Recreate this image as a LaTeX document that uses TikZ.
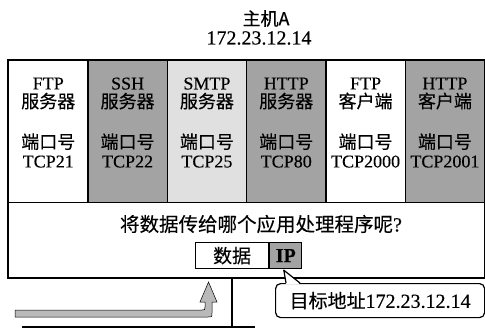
\documentclass[tikz,border=0pt]{standalone}
\usepackage{fontspec}
\setmainfont{Liberation Serif}[FakeBold=0.35]
\newfontfamily\cjk{Noto Sans CJK SC}[FakeBold=0.3]
\newcommand\zh[2][18]{{\cjk\fontsize{#1}{17}\selectfont #2}}
\definecolor{stipple}{gray}{0.64}
\definecolor{lightstipple}{gray}{0.88}
\tikzset{
  appcol/.style={draw, line width=1.2pt, minimum width=79.33pt, minimum height=142pt, anchor=north west, inner sep=0pt},
  coltext/.style={align=center, font=\fontsize{18}{17}\selectfont, inner sep=0pt},
  framebox/.style={draw, line width=1.2pt, inner sep=0pt},
}
\begin{document}
\begin{tikzpicture}[x=1pt,y=-1pt,font=\fontsize{20}{20}\selectfont]
\useasboundingbox (0,0) rectangle (485,329);
\node (hostname) at (266,18.5) {\zh{主机A}};
\node (hostip) at (259,38) {172.23.12.14};
\node[appcol] (ftps) at (8,60) {};
\node[appcol, fill=stipple] (sshs) at (87.33,60) {};
\node[appcol, fill=lightstipple] (smtps) at (166.67,60) {};
\node[appcol, fill=stipple] (https) at (246,60) {};
\node[appcol] (ftpc) at (325.33,60) {};
\node[appcol, fill=stipple] (httpc) at (404.67,60) {};
\node[coltext] (ftpsname) at ([yshift=-33.5pt]ftps.north) {FTP\\[1.5pt]\zh{服务器}};
\node[coltext] (sshsname) at ([yshift=-33.5pt]sshs.north) {SSH\\[1.5pt]\zh{服务器}};
\node[coltext] (smtpsname) at ([yshift=-33.5pt]smtps.north) {SMTP\\[1.5pt]\zh{服务器}};
\node[coltext] (httpsname) at ([yshift=-33.5pt]https.north) {HTTP\\[1.5pt]\zh{服务器}};
\node[coltext] (ftpcname) at ([yshift=-33.5pt]ftpc.north) {FTP\\[1.5pt]\zh{客户端}};
\node[coltext] (httpcname) at ([yshift=-33.5pt]httpc.north) {HTTP\\[1.5pt]\zh{客户端}};
\node[coltext] (ftpsport) at ([yshift=-90.5pt]ftps.north) {\zh{端口号}\\[2pt]TCP21};
\node[coltext] (sshsport) at ([yshift=-90.5pt]sshs.north) {\zh{端口号}\\[2pt]TCP22};
\node[coltext] (smtpsport) at ([yshift=-90.5pt]smtps.north) {\zh{端口号}\\[2pt]TCP25};
\node[coltext] (httpsport) at ([yshift=-90.5pt]https.north) {\zh{端口号}\\[2pt]TCP80};
\node[coltext] (ftpcport) at ([yshift=-90.5pt]ftpc.north) {\zh{端口号}\\[2pt]TCP2000};
\node[coltext] (httpcport) at ([yshift=-90.5pt]httpc.north) {\zh{端口号}\\[2pt]TCP2001};
\node[framebox, minimum width=476pt, minimum height=75pt, anchor=north west] (host) at (8,202) {};
\draw[line width=1.8pt] (ftps.north west) rectangle (host.south east);
\node (ask) at (261,224) {\zh[19.5]{将数据传给哪个应用处理程序呢}?};
\node[framebox, minimum width=73pt, minimum height=26pt, anchor=north west] (data) at (195,242) {\zh[19]{数据}};
\node[framebox, fill=stipple, minimum width=32pt, minimum height=26pt, anchor=west] (ip) at (data.east) {\textbf{IP}};
\node[framebox, rounded corners=5pt, minimum width=209pt, minimum height=34pt, anchor=north west] (target) at (275,283) {\zh[19]{目标地址}172.23.12.14};
\coordinate (tip) at ([xshift=-2pt,yshift=-1pt]ip.south);
\coordinate (pl) at ([xshift=11pt]target.north west);
\coordinate (pr) at ([xshift=25pt]target.north west);
\fill[white] ([yshift=-1.4pt]pl) -- (tip) -- ([yshift=-1.4pt]pr) -- cycle;
\draw[line width=1.2pt, line join=round] (pl) -- (tip) -- (pr);
\draw[line width=0.5pt, fill=gray!55] (15,310) -- (202,310) .. controls (205,310) .. (205,307) -- (205,302) -- (200,302) -- (208.5,282) -- (217,302) -- (212,302) -- (212,313) .. controls (212,317) .. (208,317) -- (15,317) -- cycle;
\coordinate (stem) at (232,327);
\coordinate (wirel) at (22,327);
\coordinate (wirer) at (255,327);
\draw[line width=1.5pt] (host.south -| stem) -- (stem);
\draw[line width=1.5pt] (wirel) -- (wirer);
\end{tikzpicture}
\end{document}
